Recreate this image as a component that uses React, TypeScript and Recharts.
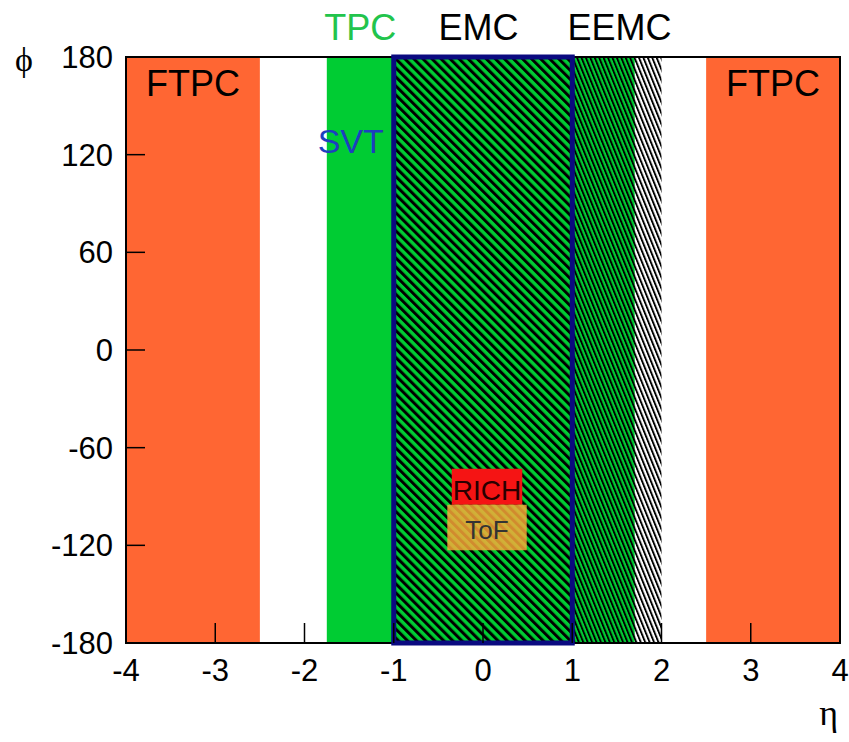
import React from "react";
import {
  ComposedChart,
  XAxis,
  YAxis,
  ReferenceArea,
  ReferenceLine,
} from "recharts";

// axes
const etaTicks = [-4, -3, -2, -1, 0, 1, 2, 3, 4];
const phiTicks = [-180, -120, -60, 0, 60, 120, 180];
const etaRange: [number, number] = [-4, 4];
const phiRange: [number, number] = [-180, 180];

// detector coverage in eta (full phi unless given)
const ftpcEta: [number, number][] = [
  [-4, -2.5],
  [2.5, 4],
];
const tpcEta: [number, number] = [-1.75, 1.7];
const emcEta: [number, number] = [-1, 1];
const eemcEta: [number, number] = [1, 2];
const svtEta: [number, number] = [-1, 1];
const richEta: [number, number] = [-0.35, 0.44];
const richPhi: [number, number] = [-95, -73];
const tofEta: [number, number] = [-0.4, 0.49];
const tofPhi: [number, number] = [-123, -95];

// labels above the frame
const topNames = ["TPC", "EMC", "EEMC"];
const topEta = [-1.375, -0.05, 1.53];
const topColors = ["#22c44c", "#000", "#000"];

const FONT = "'Liberation Sans', Arial, Helvetica, sans-serif";
const SERIF = "'Liberation Serif', 'Times New Roman', serif";

const YTick = (props: any) => {
  const { x, y, payload } = props;
  return (
    <g>
      <text x={x} y={y} dy={11} textAnchor="end" fontSize={31} fontFamily={FONT} fill="#000">
        {payload.value}
      </text>
      <line x1={x + 13} x2={x + 32} y1={y} y2={y} stroke="#000" strokeWidth={1.5} />
    </g>
  );
};

const XTick = (props: any) => {
  const { x, y, payload } = props;
  return (
    <g>
      <text x={x} y={y + 38} textAnchor="middle" fontSize={31} fontFamily={FONT} fill="#000">
        {payload.value}
      </text>
      <line x1={x} x2={x} y1={y} y2={y - 20} stroke="#000" strokeWidth={1.5} />
    </g>
  );
};

const ftpcLabel = (p: any) => {
  const vb = p.viewBox;
  return (
    <text x={vb.x + vb.width / 2} y={vb.y + 39} textAnchor="middle" fontSize={36} fontFamily={FONT} fill="#000">
      FTPC
    </text>
  );
};

const svtLabel = (p: any) => {
  const vb = p.viewBox;
  return (
    <text x={vb.x - 10} y={vb.y + 96} textAnchor="end" fontSize={34} fontFamily={FONT} fill="#1d3fbf">
      SVT
    </text>
  );
};

const boxLabel = (text: string, size: number, color: string, dy: number) => (p: any) => {
  const vb = p.viewBox;
  return (
    <text
      x={vb.x + vb.width / 2}
      y={vb.y + vb.height / 2 + dy}
      textAnchor="middle"
      fontSize={size}
      fontFamily={FONT}
      fill={color}
    >
      {text}
    </text>
  );
};

const topLabel = (text: string, color: string) => (p: any) => {
  const vb = p.viewBox;
  return (
    <text x={vb.x} y={vb.y - 17} textAnchor="middle" fontSize={36} fontFamily={FONT} fill={color}>
      {text}
    </text>
  );
};

const phiLabel = (p: any) => {
  const vb = p.viewBox;
  return (
    <text x={vb.x + 24} y={vb.y + 14} textAnchor="middle" fontSize={34} fontFamily={SERIF} fill="#000">
      ϕ
    </text>
  );
};

const etaLabel = (p: any) => {
  const vb = p.viewBox;
  return (
    <text x={vb.x + vb.width - 2} y={vb.y + 82} textAnchor="end" fontSize={36} fontFamily={SERIF} fill="#000">
      η
    </text>
  );
};

export default function App() {
  const data = etaTicks.map((eta) => ({ eta }));
  return (
    <div style={{ position: "absolute", left: 0, top: 0, background: "#fff" }}>
      <ComposedChart
        width={849}
        height={742}
        data={data}
        margin={{ top: 57, right: 9, bottom: 0, left: 0 }}
      >
        <defs>
          <pattern
            id="emcHatch"
            width={6.4}
            height={6.4}
            patternUnits="userSpaceOnUse"
            patternTransform="rotate(-45)"
          >
            <rect x={0} y={0} width={3} height={6.4} fill="#000" />
          </pattern>
          <pattern
            id="eemcHatch"
            width={4.1}
            height={4.1}
            patternUnits="userSpaceOnUse"
            patternTransform="rotate(-22)"
          >
            <rect x={0} y={0} width={1.9} height={4.1} fill="#000" />
          </pattern>
        </defs>
        <XAxis
          type="number"
          dataKey="eta"
          domain={etaRange}
          ticks={etaTicks}
          allowDataOverflow
          height={99}
          axisLine={false}
          tickLine={false}
          tickSize={0}
          tickMargin={0}
          tick={<XTick />}
          interval={0}
          label={{ content: etaLabel }}
        />
        <YAxis
          type="number"
          domain={phiRange}
          ticks={phiTicks}
          allowDataOverflow
          width={126}
          axisLine={false}
          tickLine={false}
          tickSize={0}
          tickMargin={13}
          tick={<YTick />}
          interval={0}
          label={{ content: phiLabel }}
        />

        {ftpcEta.map(([a, b], i) => (
          <ReferenceArea
            key={"ftpc" + i}
            x1={a}
            x2={b}
            y1={phiRange[0]}
            y2={phiRange[1]}
            fill="#ff6633"
            fillOpacity={1}
            stroke="none"
            label={ftpcLabel}
          />
        ))}
        <ReferenceArea
          x1={tpcEta[0]}
          x2={tpcEta[1]}
          y1={phiRange[0]}
          y2={phiRange[1]}
          fill="#00cc33"
          fillOpacity={1}
          stroke="none"
        />
        <ReferenceArea
          x1={emcEta[0]}
          x2={emcEta[1]}
          y1={phiRange[0]}
          y2={phiRange[1]}
          fill="url(#emcHatch)"
          fillOpacity={1}
          stroke="none"
        />
        <ReferenceArea
          x1={eemcEta[0]}
          x2={eemcEta[1]}
          y1={phiRange[0]}
          y2={phiRange[1]}
          fill="url(#eemcHatch)"
          fillOpacity={1}
          stroke="none"
        />
        <ReferenceArea
          x1={etaRange[0]}
          x2={etaRange[1]}
          y1={phiRange[0]}
          y2={phiRange[1]}
          fill="none"
          stroke="#000"
          strokeWidth={2}
        />
        <ReferenceArea
          x1={svtEta[0]}
          x2={svtEta[1]}
          y1={phiRange[0]}
          y2={phiRange[1]}
          fill="none"
          stroke="#0a0a80"
          strokeWidth={5}
          label={svtLabel}
        />
        <ReferenceArea
          x1={richEta[0]}
          x2={richEta[1]}
          y1={richPhi[0]}
          y2={richPhi[1]}
          fill="#f51414"
          fillOpacity={1}
          stroke="none"
          label={boxLabel("RICH", 28, "#2a0000", 13)}
        />
        <ReferenceArea
          x1={tofEta[0]}
          x2={tofEta[1]}
          y1={tofPhi[0]}
          y2={tofPhi[1]}
          fill="#ffaa38"
          fillOpacity={0.82}
          stroke="none"
          label={boxLabel("ToF", 26, "#333", 12)}
        />
        {topNames.map((name, i) => (
          <ReferenceLine
            key={name}
            x={topEta[i]}
            stroke="none"
            label={topLabel(name, topColors[i])}
          />
        ))}
      </ComposedChart>
    </div>
  );
}
